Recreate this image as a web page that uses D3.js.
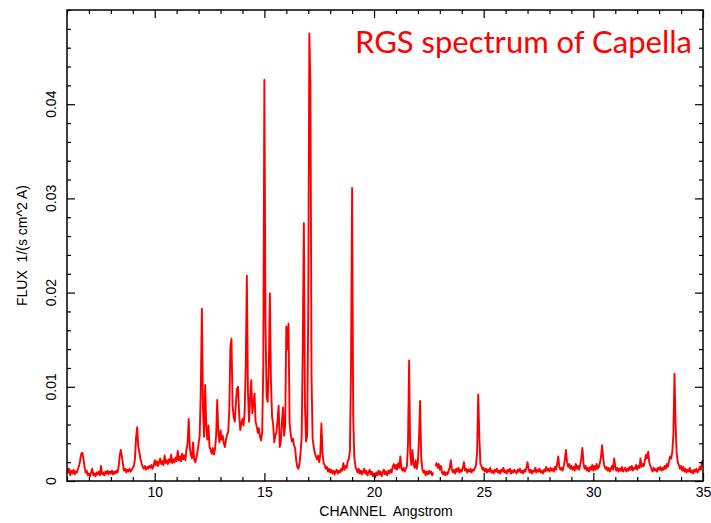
<!DOCTYPE html>
<html>
<head>
<meta charset="utf-8">
<script src="https://cdn.jsdelivr.net/npm/d3@7"></script>
<style>
  html, body { margin: 0; padding: 0; background: #fff; }
  svg { display: block; }
  text { white-space: pre; }
</style>
</head>
<body>
<svg id="chart" width="711" height="523"></svg>
<script>
// ---- data ----
const titleText = "RGS spectrum of Capella";
const xLabel = "CHANNEL  Angstrom";
const yLabel = "FLUX  1/(s cm^2 A)";
const xDomain = [6, 35];
const yDomain = [0, 0.05];
const xTickValues = [10, 15, 20, 25, 30, 35];
const xTickLabels = ["10", "15", "20", "25", "30", "35"];
const yTickValues = [0, 0.01, 0.02, 0.03, 0.04];
const yTickLabels = ["0", "0.01", "0.02", "0.03", "0.04"];
const xMinorStep = 1;
const yMinorStep = 0.002;
// wavelength grid: start and channel width (Angstrom)
const wavelengthStart = 6.0;
const wavelengthStep = 0.05;
// flux per channel (null = gap in the data)
const flux = [
 .0014,.0009,.0013,.0006,.0011,.0008,.0012,.0007,.0010,.0009,.0013,.0016,.0022,.0029,.0030,.0024,.0015,.0009,.0011,.0006,
 .0008,.0005,.0009,.0013,.0006,.0008,.0005,.0009,.0007,.0010,.0006,.0016,.0007,.0009,.0006,.0010,.0008,.0011,.0007,.0010,
 .0008,.0011,.0007,.0010,.0008,.0011,.0009,.0014,.0026,.0033,.0027,.0018,.0011,.0013,.0009,.0012,.0010,.0013,.0010,.0012,
 .0014,.0016,.0024,.0046,.0057,.0036,.0031,.0023,.0019,.0015,.0013,.0016,.0012,.0015,.0013,.0016,.0014,.0017,.0013,.0016,
 .0022,.0017,.0021,.0016,.0020,.0024,.0018,.0021,.0017,.0027,.0019,.0022,.0018,.0023,.0020,.0028,.0019,.0023,.0020,.0025,
 .0021,.0032,.0022,.0026,.0021,.0029,.0023,.0027,.0022,.0034,.0040,.0066,.0035,.0028,.0024,.0041,.0023,.0020,.0025,.0031,
 .0040,.0048,.0095,.0183,.0078,.0047,.0102,.0058,.0044,.0059,.0036,.0033,.0029,.0035,.0028,.0034,.0048,.0086,.0052,.0041,
 .0054,.0044,.0048,.0040,.0036,.0044,.0049,.0052,.0075,.0142,.0151,.0080,.0068,.0063,.0082,.0098,.0100,.0071,.0054,.0061,
 .0066,.0059,.0073,.0120,.0218,.0095,.0063,.0088,.0107,.0072,.0082,.0093,.0063,.0058,.0051,.0056,.0047,.0043,.0052,.0120,
 .0426,.0170,.0090,.0084,.0120,.0199,.0105,.0068,.0060,.0041,.0048,.0052,.0065,.0080,.0036,.0042,.0062,.0078,.0048,.0060,
 .0164,.0140,.0167,.0062,.0050,.0042,.0045,.0038,.0035,.0022,.0015,.0013,.0018,.0030,.0047,.0140,.0274,.0080,.0042,.0048,
 .0180,.0475,.0420,.0110,.0045,.0036,.0030,.0026,.0023,.0027,.0020,.0028,.0061,.0030,.0019,.0017,.0013,.0015,.0010,.0013,
 .0009,.0012,.0008,.0011,.0007,.0010,.0012,.0008,.0011,.0009,.0013,.0011,.0019,.0012,.0016,.0014,.0021,.0023,.0032,.0120,
 .0311,.0070,.0025,.0016,.0012,.0009,.0013,.0008,.0011,.0007,.0010,.0013,.0008,.0011,.0006,.0009,.0012,.0007,.0010,.0005,
 .0008,.0004,.0009,.0006,.0011,.0007,.0010,.0005,.0009,.0012,.0007,.0010,.0006,.0011,.0008,.0012,.0009,.0015,.0018,.0013,
 .0017,.0012,.0019,.0014,.0026,.0013,.0011,.0014,.0010,.0013,.0016,.0040,.0128,.0030,.0017,.0033,.0018,.0014,.0022,.0013,
 .0020,.0045,.0085,.0025,.0013,.0009,.0011,.0006,.0010,.0007,.0011,.0008,.0010,.0006,.0009,null,.0016,.0019,.0014,.0018,
 .0012,.0016,.0009,.0007,.0010,.0006,.0009,.0007,.0011,.0014,.0022,.0012,.0009,.0012,.0008,.0013,.0010,.0014,.0009,.0012,
 .0010,.0014,.0020,.0011,.0013,.0009,.0012,.0010,.0013,.0009,.0012,.0011,.0014,.0017,.0030,.0092,.0048,.0018,.0016,.0012,
 .0014,.0010,.0013,.0009,.0012,.0010,.0014,.0009,.0011,.0008,.0012,.0010,.0013,.0009,.0011,.0008,.0012,.0010,.0014,.0009,
 .0011,.0008,.0012,.0010,.0013,.0008,.0011,.0009,.0012,.0010,.0008,.0012,.0010,.0013,.0009,.0011,.0008,.0012,.0010,.0014,
 .0020,.0012,.0009,.0012,.0008,.0011,.0010,.0014,.0009,.0012,.0010,.0013,.0009,.0011,.0008,.0012,.0010,.0015,.0011,.0013,
 .0010,.0014,.0011,.0013,.0010,.0015,.0012,.0018,.0026,.0015,.0012,.0014,.0011,.0016,.0022,.0033,.0020,.0015,.0018,.0013,
 .0016,.0012,.0015,.0011,.0018,.0013,.0016,.0012,.0017,.0024,.0035,.0019,.0013,.0016,.0011,.0014,.0010,.0015,.0012,.0017,
 .0011,.0016,.0012,.0018,.0013,.0015,.0019,.0026,.0038,.0024,.0016,.0013,.0015,.0011,.0014,.0010,.0013,.0016,.0012,.0024,
 .0015,.0011,.0014,.0010,.0013,.0011,.0015,.0010,.0012,.0014,.0010,.0013,.0011,.0015,.0012,.0016,.0011,.0014,.0013,.0017,
 .0012,.0016,.0014,.0024,.0015,.0018,.0016,.0022,.0028,.0024,.0031,.0020,.0016,.0013,.0010,.0014,.0011,.0013,.0010,.0014,
 .0012,.0015,.0011,.0014,.0012,.0016,.0013,.0018,.0015,.0021,.0026,.0024,.0031,.0050,.0114,.0060,.0029,.0020,.0017,.0013,
 .0016,.0011,.0015,.0010,.0013,.0009,.0012,.0010,.0014,.0009,.0011,.0008,.0012,.0010,.0013,.0009,.0011,.0015,.0012,.0020,
 .0022
];

// ---- layout ----
const W = 711, H = 523;
const margin = { left: 67, right: 8, top: 10, bottom: 42 };
const svg = d3.select("#chart");
const plotW = W - margin.left - margin.right;
const plotH = H - margin.top - margin.bottom;

const x = d3.scaleLinear().domain(xDomain).range([margin.left, margin.left + plotW]);
const y = d3.scaleLinear().domain(yDomain).range([margin.top + plotH, margin.top]);

const points = flux.map((v, i) => ({ w: wavelengthStart + i * wavelengthStep, f: v }));

// clip
svg.append("clipPath").attr("id", "clip").append("rect")
  .attr("x", margin.left).attr("y", margin.top).attr("width", plotW).attr("height", plotH);

// spectrum line
const line = d3.line()
  .defined(d => d.f !== null)
  .x(d => x(d.w))
  .y(d => y(d.f));

svg.append("path")
  .datum(points)
  .attr("clip-path", "url(#clip)")
  .attr("fill", "none")
  .attr("stroke", "#ff0000")
  .attr("stroke-width", 1.9)
  .attr("stroke-linejoin", "round")
  .attr("d", line);

// axes
const minorX = d3.range(xDomain[0], xDomain[1] + 1e-9, xMinorStep).filter(v => !xTickValues.includes(v));
const minorY = d3.range(yDomain[0], yDomain[1] + 1e-9, yMinorStep)
  .filter(v => !yTickValues.some(t => Math.abs(t - v) < 1e-9));

function styleAxis(g) {
  g.select(".domain").remove();
  g.selectAll("line").attr("stroke", "#000").attr("stroke-width", 1.2);
}

// bottom major
svg.append("g").attr("transform", `translate(0,${margin.top + plotH})`)
  .call(d3.axisBottom(x).tickValues(xTickValues).tickSize(-8)
    .tickFormat((d, i) => xTickLabels[i]).tickPadding(6))
  .call(styleAxis)
  .call(g => g.selectAll("text").attr("font-family", "Liberation Sans, Arial, sans-serif")
    .attr("font-size", 14).attr("fill", "#000"));
// bottom minor
svg.append("g").attr("transform", `translate(0,${margin.top + plotH})`)
  .call(d3.axisBottom(x).tickValues(minorX).tickSize(-4).tickFormat(""))
  .call(styleAxis);
// top major/minor
svg.append("g").attr("transform", `translate(0,${margin.top})`)
  .call(d3.axisTop(x).tickValues(xTickValues).tickSize(-8).tickFormat(""))
  .call(styleAxis);
svg.append("g").attr("transform", `translate(0,${margin.top})`)
  .call(d3.axisTop(x).tickValues(minorX).tickSize(-4).tickFormat(""))
  .call(styleAxis);

// left major
svg.append("g").attr("transform", `translate(${margin.left},0)`)
  .call(d3.axisLeft(y).tickValues(yTickValues).tickSize(-8).tickFormat(""))
  .call(styleAxis);
svg.append("g").attr("transform", `translate(${margin.left},0)`)
  .call(d3.axisLeft(y).tickValues(minorY).tickSize(-4).tickFormat(""))
  .call(styleAxis);
// right
svg.append("g").attr("transform", `translate(${margin.left + plotW},0)`)
  .call(d3.axisRight(y).tickValues(yTickValues).tickSize(-8).tickFormat(""))
  .call(styleAxis);
svg.append("g").attr("transform", `translate(${margin.left + plotW},0)`)
  .call(d3.axisRight(y).tickValues(minorY).tickSize(-4).tickFormat(""))
  .call(styleAxis);

// y tick labels, rotated
svg.append("g").selectAll("text")
  .data(yTickValues)
  .join("text")
  .attr("transform", d => `translate(${margin.left - 11},${y(d)}) rotate(-90)`)
  .attr("text-anchor", "middle")
  .attr("font-family", "Liberation Sans, Arial, sans-serif")
  .attr("font-size", 14)
  .attr("fill", "#000")
  .text((d, i) => yTickLabels[i]);

// frame
svg.append("rect")
  .attr("x", margin.left).attr("y", margin.top)
  .attr("width", plotW).attr("height", plotH)
  .attr("fill", "none").attr("stroke", "#000").attr("stroke-width", 1.5);

// axis labels
svg.append("text")
  .attr("x", 386)
  .attr("y", 516)
  .attr("text-anchor", "middle")
  .attr("font-family", "Liberation Sans, Arial, sans-serif")
  .attr("font-size", 14)
  .attr("fill", "#000")
  .text(xLabel);

svg.append("text")
  .attr("transform", `translate(27,${(y.range()[0] + y.range()[1]) / 2}) rotate(-90)`)
  .attr("text-anchor", "middle")
  .attr("font-family", "Liberation Sans, Arial, sans-serif")
  .attr("font-size", 14)
  .attr("fill", "#000")
  .text(yLabel);

// title
svg.append("text")
  .attr("x", 692)
  .attr("y", 53)
  .attr("text-anchor", "end")
  .attr("font-family", "Lato, 'Open Sans', sans-serif")
  .attr("font-size", 31)
  .attr("fill", "#ff0000")
  .text(titleText);
</script>
</body>
</html>
